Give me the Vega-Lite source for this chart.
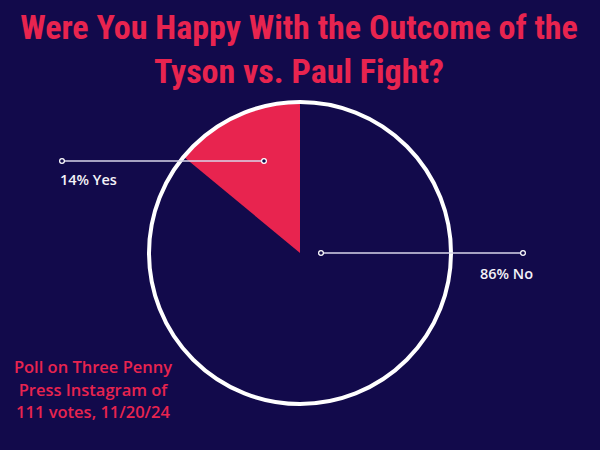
{
  "$schema": "https://vega.github.io/schema/vega-lite/v6.json",
  "width": 600,
  "height": 394,
  "autosize": {"type": "none"},
  "padding": {"top": 56, "left": 0, "right": 0, "bottom": 0},
  "background": "#120a4b",
  "config": {"view": {"stroke": null}},
  "datasets": {
    "slices": [
      {"answer": "No", "percent": 86, "ord": 1},
      {"answer": "Yes", "percent": 14, "ord": 2}
    ],
    "center": [{"cx": 300, "cy": 253}],
    "leaders": [
      {"answer": "Yes", "x1": 62, "x2": 264, "y": 161},
      {"answer": "No", "x1": 321, "x2": 523, "y": 253}
    ],
    "ends": [
      {"x": 62, "y": 161}, {"x": 264, "y": 161},
      {"x": 321, "y": 253}, {"x": 523, "y": 253}
    ],
    "labels": [
      {"text": "14% Yes", "x": 60, "y": 185},
      {"text": "86% No", "x": 480, "y": 279}
    ],
    "note": [
      {"text": "Poll on Three Penny", "x": 93, "y": 373},
      {"text": "Press Instagram of", "x": 93, "y": 396},
      {"text": "111 votes, 11/20/24", "x": 93, "y": 418}
    ],
    "title": [
      {"text": "Were You Happy  With the Outcome of the", "x": 299, "y": 39},
      {"text": "Tyson vs. Paul Fight?", "x": 299, "y": 83}
    ]
  },
  "layer": [
    {
      "data": {"name": "slices"},
      "mark": {"type": "arc", "outerRadius": 151},
      "encoding": {
        "theta": {"field": "percent", "type": "quantitative", "stack": true},
        "order": {"field": "ord", "type": "quantitative"},
        "color": {"field": "answer", "type": "nominal", "scale": {"domain": ["No", "Yes"], "range": ["#120a4b", "#e8244f"]}, "legend": null}
      }
    },
    {
      "data": {"name": "center"},
      "mark": {"type": "point", "shape": "circle", "filled": false, "stroke": "#ffffff", "strokeWidth": 4, "size": 91204, "opacity": 1},
      "encoding": {
        "x": {"field": "cx", "type": "quantitative", "scale": {"domain": [0, 600]}, "axis": null},
        "y": {"field": "cy", "type": "quantitative", "scale": {"domain": [56, 450], "reverse": true}, "axis": null}
      }
    },
    {
      "data": {"name": "leaders"},
      "mark": {"type": "rule", "color": "#d9d6ea", "strokeWidth": 1.5},
      "encoding": {
        "x": {"field": "x1", "type": "quantitative", "scale": {"domain": [0, 600]}, "axis": null},
        "x2": {"field": "x2"},
        "y": {"field": "y", "type": "quantitative", "scale": {"domain": [56, 450], "reverse": true}, "axis": null}
      }
    },
    {
      "data": {"name": "ends"},
      "mark": {"type": "point", "shape": "circle", "filled": true, "fill": "#120a4b", "stroke": "#ffffff", "strokeWidth": 1.3, "size": 22, "opacity": 1},
      "encoding": {
        "x": {"field": "x", "type": "quantitative", "scale": {"domain": [0, 600]}, "axis": null},
        "y": {"field": "y", "type": "quantitative", "scale": {"domain": [56, 450], "reverse": true}, "axis": null}
      }
    },
    {
      "data": {"name": "labels"},
      "mark": {"type": "text", "align": "left", "baseline": "alphabetic", "font": "Open Sans", "fontSize": 14.5, "fontWeight": 600, "color": "#f4f2f8"},
      "encoding": {
        "x": {"field": "x", "type": "quantitative", "scale": {"domain": [0, 600]}, "axis": null},
        "y": {"field": "y", "type": "quantitative", "scale": {"domain": [56, 450], "reverse": true}, "axis": null},
        "text": {"field": "text"}
      }
    },
    {
      "data": {"name": "note"},
      "mark": {"type": "text", "align": "center", "baseline": "alphabetic", "font": "Open Sans", "fontSize": 16.5, "fontWeight": 600, "color": "#e8244f"},
      "encoding": {
        "x": {"field": "x", "type": "quantitative", "scale": {"domain": [0, 600]}, "axis": null},
        "y": {"field": "y", "type": "quantitative", "scale": {"domain": [56, 450], "reverse": true}, "axis": null},
        "text": {"field": "text"}
      }
    },
    {
      "data": {"name": "title"},
      "mark": {"type": "text", "align": "center", "baseline": "alphabetic", "font": "Liberation Sans Narrow, Roboto Condensed, Roboto", "fontSize": 34, "fontWeight": "bold", "color": "#e8244f"},
      "encoding": {
        "x": {"field": "x", "type": "quantitative", "scale": {"domain": [0, 600]}, "axis": null},
        "y": {"field": "y", "type": "quantitative", "scale": {"domain": [56, 450], "reverse": true}, "axis": null},
        "text": {"field": "text"}
      }
    }
  ]
}
